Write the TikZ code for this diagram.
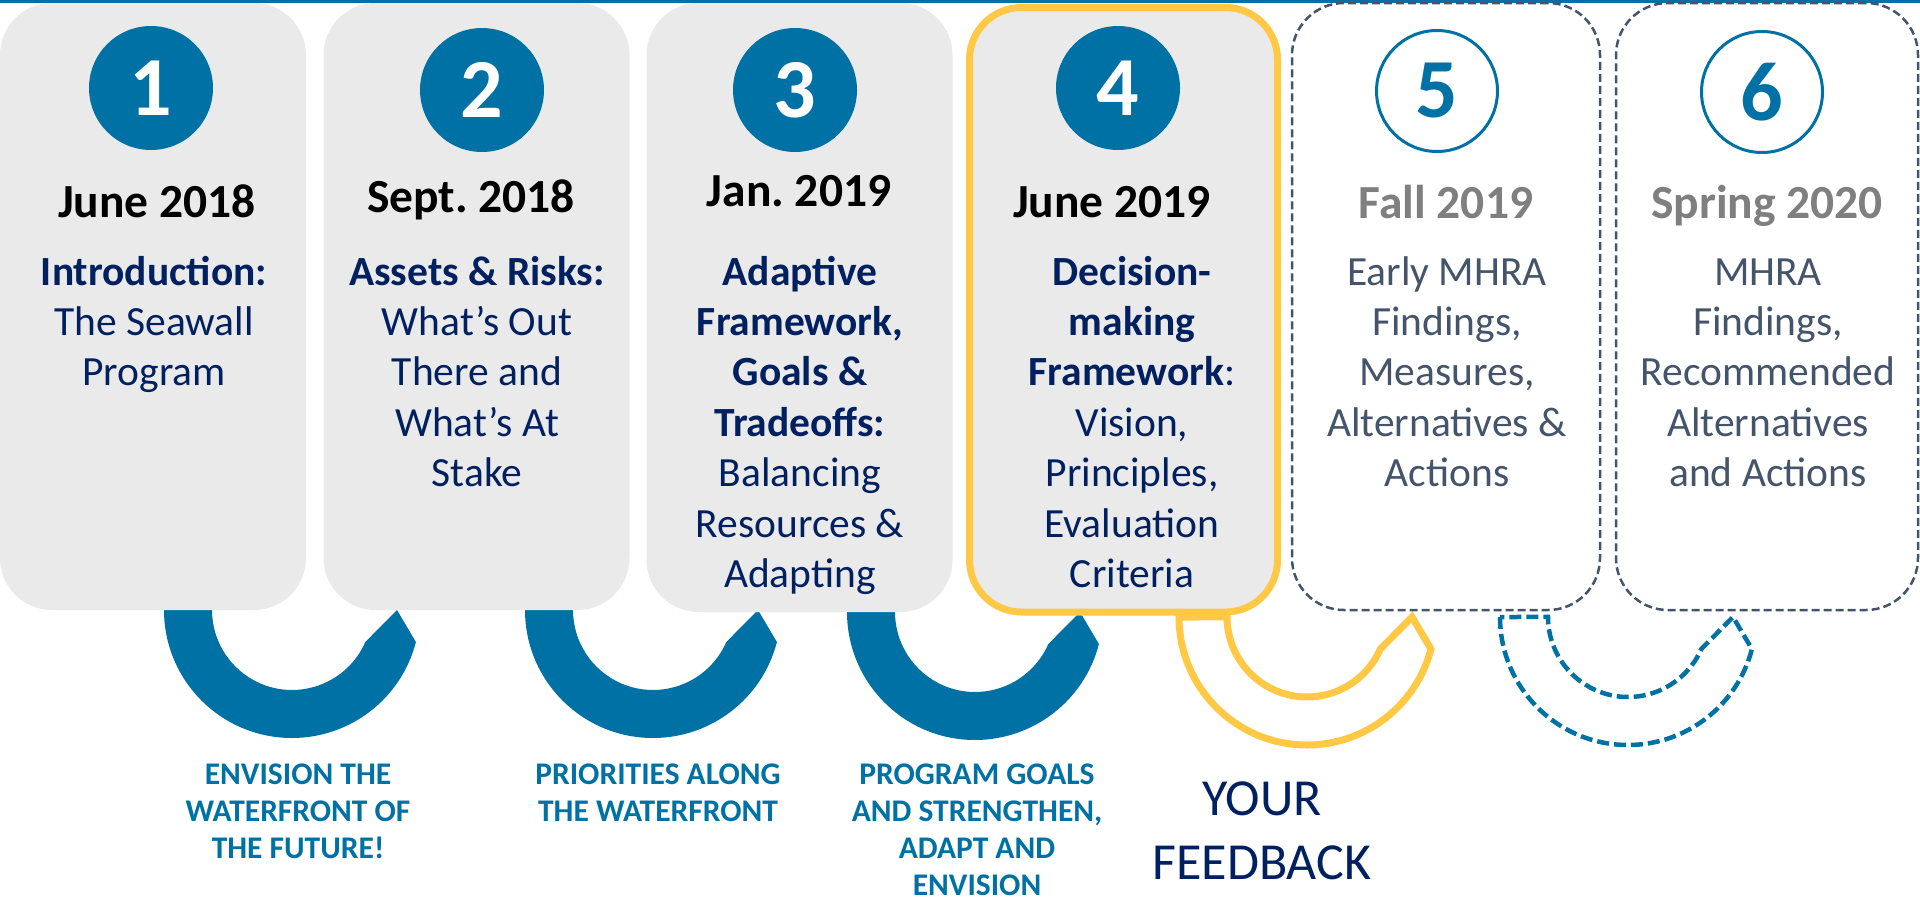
\documentclass[tikz,border=0pt]{standalone}
\usepackage{fontspec}
\setmainfont{Carlito}
\usetikzlibrary{positioning}

\definecolor{seablue}{HTML}{0071A4}
\definecolor{panelgray}{HTML}{EAEAEA}
\definecolor{navy}{HTML}{002060}
\definecolor{feedbackyellow}{HTML}{FFC845}
\definecolor{slate}{HTML}{44546A}
\definecolor{dategray}{HTML}{7F7F7F}

\begin{document}
\frenchspacing
\begin{tikzpicture}[
    x=1pt, y=-1pt,
    stage/.style={rectangle, rounded corners=52pt, minimum width=306pt, minimum height=607pt, inner sep=0pt},
    done/.style={stage, fill=panelgray},
    current/.style={stage, fill=panelgray, draw=feedbackyellow, line width=7pt},
    future/.style={stage, draw=slate, line width=2.5pt, dash pattern=on 8pt off 4pt},
    badge/.style={circle, minimum size=124pt, inner sep=0pt, fill=seablue, text=white, font=\fontsize{84}{84}\selectfont\bfseries},
    openbadge/.style={badge, minimum size=121pt, fill=white, draw=seablue, line width=3pt, text=seablue},
    date/.style={anchor=base, inner sep=0pt, font=\fontsize{47.5}{57}\selectfont\bfseries},
    topic/.style={anchor=base, inner sep=0pt, align=center, text=navy, font=\fontsize{41.5}{50.4}\selectfont},
    note/.style={anchor=base, inner sep=0pt, align=center, text=seablue, font=\fontsize{31.5}{37.3}\selectfont\bfseries},
    loop/.pic={\path[pic actions] (-128,0) arc[start angle=180, end angle=14.5, radius=128] -- (105,0)
        -- (73.3,32) arc[start angle=23.6, end angle=180, radius=80] -- cycle;}
]
    \useasboundingbox (0,0) rectangle (1920,908);
    \fill[seablue] (0,0) rectangle (1920,2.5);

    \pic[fill=seablue] at (292,610) {loop};
    \pic[fill=seablue] at (653,610) {loop};
    \pic[fill=seablue] at (975,612) {loop};
    \pic[draw=feedbackyellow, line width=7pt] at (1307,617) {loop};
    \pic[draw=seablue, line width=4.5pt, dash pattern=on 12pt off 5pt] at (1628,617) {loop};

    \node[done] (stage1) at (153,306.5) {};
    \node[done] (stage2) at (476.5,306.5) {};
    \node[done, minimum height=609pt] (stage3) at (799.5,307.5) {};
    \node[current, minimum width=308pt, minimum height=604.5pt] (stage4) at (1123.5,309.75) {};
    \node[future, minimum width=308pt] (stage5) at (1446,306.5) {};
    \node[future, minimum width=302pt] (stage6) at (1767,306.5) {};

    \node[badge] (badge1) at (151,88) {1};
    \node[badge] (badge2) at (482,90) {2};
    \node[badge] (badge3) at (795,90) {3};
    \node[badge] (badge4) at (1118,88) {4};
    \node[openbadge] (badge5) at (1437,91) {5};
    \node[openbadge] (badge6) at (1762,92) {6};

    \node[date] (date1) at (157,217) {June 2018};
    \node[date] (date2) at (471,212) {Sept. 2018};
    \node[date] (date3) at (799,206) {Jan. 2019};
    \node[date] (date4) at (1112,217) {June 2019};
    \node[date, text=dategray] (date5) at (1446,218) {Fall 2019};
    \node[date, text=dategray] (date6) at (1767,218) {Spring 2020};

    % base anchor sits on the last line
    \node[topic] (topic1) at (154,385.8) {\textbf{Introduction:}\\The Seawall\\Program};
    \node[topic] (topic2) at (477,486.6) {\textbf{Assets \& Risks:}\\What’s Out\\There and\\What’s At\\Stake};
    \node[topic] (topic3) at (800,587.4) {\textbf{Adaptive}\\\textbf{Framework,}\\\textbf{Goals \&}\\\textbf{Tradeoffs:}\\Balancing\\Resources \&\\Adapting};
    \node[topic] (topic4) at (1132,587.4) {\textbf{Decision-}\\\textbf{making}\\\textbf{Framework}:\\Vision,\\Principles,\\Evaluation\\Criteria};
    \node[topic, text=slate] (topic5) at (1447,486.6) {Early MHRA\\Findings,\\Measures,\\Alternatives \&\\Actions};
    \node[topic, text=slate] (topic6) at (1768,486.6) {MHRA\\Findings,\\Recommended\\Alternatives\\and Actions};

    \node[note] (note1) at (298,858.6) {ENVISION THE\\WATERFRONT OF\\THE FUTURE!};
    \node[note] (note2) at (658,821.3) {PRIORITIES ALONG\\THE WATERFRONT};
    \node[note] (note3) at (977,895.9) {PROGRAM GOALS\\AND STRENGTHEN,\\ADAPT AND\\ENVISION};
    \node[topic, font=\fontsize{52}{64}\selectfont] (feedback) at (1262,879) {YOUR\\FEEDBACK};
\end{tikzpicture}
\end{document}
